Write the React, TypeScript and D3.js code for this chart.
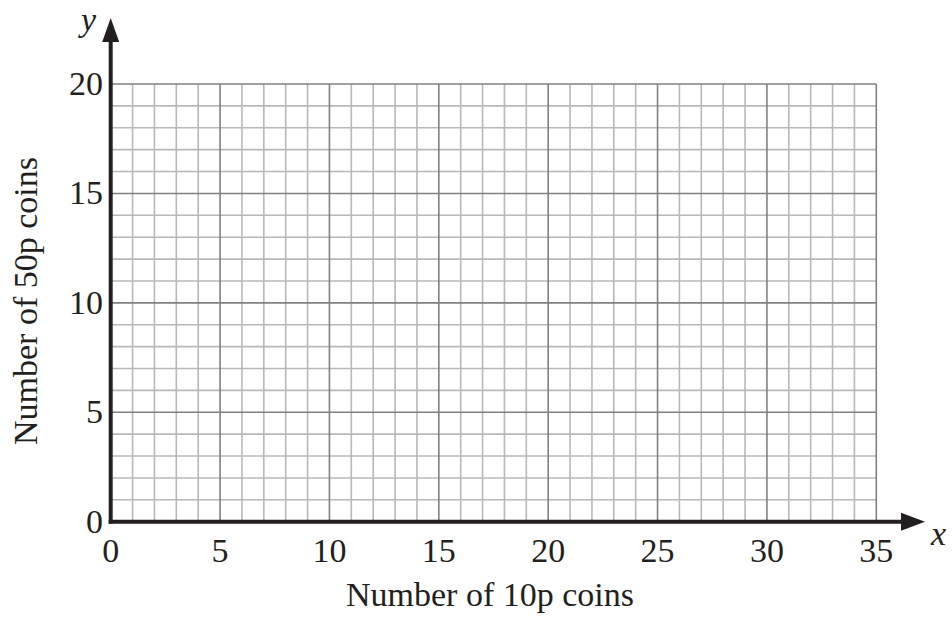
import React from "react";
import * as d3 from "d3";

const xTicks = [0, 5, 10, 15, 20, 25, 30, 35];
const yTicks = [0, 5, 10, 15, 20];
const xMax = [35];
const yMax = [20];
const xLabel = "Number of 10p coins";
const yLabel = "Number of 50p coins";

export default function App() {
  const W = 952, H = 619;
  const x = d3.scaleLinear().domain([0, xMax[0]]).range([110.7, 876.3]);
  const y = d3.scaleLinear().domain([0, yMax[0]]).range([521.7, 84]);
  const xs = d3.range(0, xMax[0] + 1);
  const ys = d3.range(0, yMax[0] + 1);
  const font = "'Liberation Serif', 'Times New Roman', serif";
  const minor = "#b8b8b8";
  const major = "#808080";
  const fs = 34;
  return (
    <svg width={W} height={H} style={{ position: "absolute", left: 0, top: 0 }}>
      <rect width={W} height={H} fill="#fff" />
      {xs.filter(v => v % 5 !== 0).map(v => (
        <line key={"xm" + v} x1={x(v)} x2={x(v)} y1={y(0)} y2={y(yMax[0])} stroke={minor} strokeWidth={1.6} />
      ))}
      {ys.filter(v => v % 5 !== 0).map(v => (
        <line key={"ym" + v} y1={y(v)} y2={y(v)} x1={x(0)} x2={x(xMax[0])} stroke={minor} strokeWidth={1.6} />
      ))}
      {xs.filter(v => v % 5 === 0).map(v => (
        <line key={"xM" + v} x1={x(v)} x2={x(v)} y1={y(0)} y2={y(yMax[0])} stroke={major} strokeWidth={1.6} />
      ))}
      {ys.filter(v => v % 5 === 0).map(v => (
        <line key={"yM" + v} y1={y(v)} y2={y(v)} x1={x(0)} x2={x(xMax[0])} stroke={major} strokeWidth={1.6} />
      ))}
      {/* axes */}
      <line x1={x(0)} x2={x(0)} y1={y(0) + 2} y2={40} stroke="#231f20" strokeWidth={4} />
      <line x1={x(0) - 2} x2={903} y1={y(0)} y2={y(0)} stroke="#231f20" strokeWidth={4} />
      <path d={`M${x(0)},18 L${x(0) - 8.5},42 L${x(0) + 8.5},42 Z`} fill="#231f20" />
      <path d={`M925,${y(0)} L901,${y(0) - 9} L901,${y(0) + 9} Z`} fill="#231f20" />
      {xTicks.map(v => (
        <text key={"xt" + v} x={x(v)} y={562} textAnchor="middle" fontFamily={font} fontSize={fs} fill="#231f20">{v}</text>
      ))}
      {yTicks.map(v => (
        <text key={"yt" + v} x={103} y={y(v) + 11} textAnchor="end" fontFamily={font} fontSize={fs} fill="#231f20">{v}</text>
      ))}
      <text x={490} y={606} textAnchor="middle" fontFamily={font} fontSize={fs} fill="#231f20">{xLabel}</text>
      <text transform={`translate(37,301) rotate(-90)`} textAnchor="middle" fontFamily={font} fontSize={fs} fill="#231f20">{yLabel}</text>
      <text x={81} y={31} fontFamily={font} fontStyle="italic" fontSize={34} fill="#231f20">y</text>
      <text x={931} y={545} fontFamily={font} fontStyle="italic" fontSize={34} fill="#231f20">x</text>
    </svg>
  );
}
